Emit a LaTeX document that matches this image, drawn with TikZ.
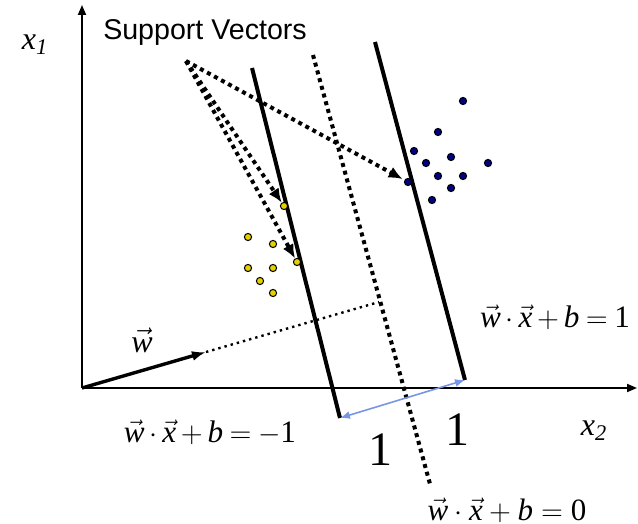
\documentclass[tikz,border=0pt]{standalone}
\usepackage{fontspec}
\setmainfont{Liberation Serif}
\newfontfamily\labelsans{Liberation Sans}
\usetikzlibrary{arrows.meta}
\definecolor{negfill}{RGB}{228,208,0}
\definecolor{posfill}{RGB}{0,0,128}
\definecolor{gapblue}{RGB}{120,150,230}
\newcommand{\vv}[1]{\vec{\textit{#1}}}

\begin{document}
\begin{tikzpicture}[x=0.5pt,y=-0.5pt,every node/.style={inner sep=0pt}]
    \tikzset{
      negpt/.style={circle,draw=black,fill=negfill,line width=0.5pt,minimum size=3.6pt},
      pospt/.style={circle,draw=black,fill=posfill,line width=0.5pt,minimum size=3.6pt},
      margin/.style={line width=2pt},
      hyper/.style={line width=2pt,dash pattern=on 2pt off 2pt},
      svarrow/.style={line width=2pt,dash pattern=on 2pt off 2pt,-{Latex[length=7pt,width=6pt]}},
      axis/.style={line width=0.9pt,-{Triangle[length=5pt,width=4pt]}},
      eqn/.style={font=\fontsize{15.6}{17}\selectfont},
      tight/.style={execute at begin node={\medmuskip=3mu\thickmuskip=4mu}},
      big/.style={font=\fontsize{24}{26}\selectfont}
    }
    \useasboundingbox (0,0) rectangle (638,524);

    \coordinate (o) at (82,388);
    \coordinate (x1end) at (82,5);
    \coordinate (x2end) at (637,388);
    \draw[axis] (o) -- (x1end);
    \draw[axis] (o) -- (x2end);
    \node[font=\fontsize{16}{18}\selectfont] (x1lab) at (35,45) {\textit{x}\textsubscript{\textit{1}}};
    \node[font=\fontsize{16}{18}\selectfont] (x2lab) at (594,431) {\textit{x}\textsubscript{\textit{2}}};

    \coordinate (lm1) at (252,68);
    \coordinate (lm2) at (340,418);
    \coordinate (rm1) at (375,42);
    \coordinate (rm2) at (465,380);
    \coordinate (hp1) at (313,55);
    \coordinate (hp2) at (430,484);
    \draw[margin] (lm1) -- (lm2);
    \draw[margin] (rm1) -- (rm2);
    \draw[hyper] (hp1) -- (hp2);
    \draw[gapblue,line width=0.8pt,{Latex[length=5pt,width=4pt]}-{Latex[length=5pt,width=4pt]}] (lm2) -- (rm2);

    \coordinate (wtip) at (206,352);
    \coordinate (wend) at (379,302);
    \draw[line width=1.7pt,-{Latex[length=7pt,width=5pt]}] (o) -- (wtip);
    \draw[line width=1.2pt,dash pattern=on 1.2pt off 2pt] (wtip) -- (wend);
    \node[font=\fontsize{16}{18}\selectfont] (wlab) at (142,340) {$\vv{w}$};

    \node[negpt] (n1) at (248,237) {};
    \node[negpt] (n2) at (273,244) {};
    \node[negpt] (n3) at (248,268) {};
    \node[negpt] (n4) at (273,268) {};
    \node[negpt] (n5) at (260,281) {};
    \node[negpt] (n6) at (273,293) {};
    \node[negpt] (nsv1) at (284,206) {};
    \node[negpt] (nsv2) at (297,262) {};

    \node[pospt] (p1) at (463,101) {};
    \node[pospt] (p2) at (438,132) {};
    \node[pospt] (p3) at (414,151) {};
    \node[pospt] (p4) at (451,157) {};
    \node[pospt] (p5) at (426,163) {};
    \node[pospt] (p6) at (488,163) {};
    \node[pospt] (p7) at (438,176) {};
    \node[pospt] (p8) at (463,176) {};
    \node[pospt] (p9) at (451,188) {};
    \node[pospt] (p10) at (432,200) {};
    \node[pospt] (psv) at (408,182) {};

    \node[font=\labelsans\fontsize{14.3}{16}\selectfont] (svlab) at (205,32) {Support Vectors};
    \coordinate (sv) at (186,61);
    \draw[svarrow,shorten >=1pt] (sv) -- (psv);
    \draw[svarrow] (sv) -- (nsv1);
    \draw[svarrow] (sv) -- (nsv2);

    \node[eqn,tight] (eqpos) at (555,317) {$\vv{w}\cdot\vv{x}+\textit{b}=\textup{1}$};
    \node[eqn,tight] (eqneg) at (210,432) {$\vv{w}\cdot\vv{x}+\textit{b}=-\textup{1}$};
    \node[font=\fontsize{15.5}{17}\selectfont] (eqzero) at (507,510) {$\vv{w}\cdot\vv{x}+\textit{b}=\textup{0}$};
    \node[big] (oneleft) at (380,450) {1};
    \node[big] (oneright) at (457,430) {1};
\end{tikzpicture}
\end{document}
